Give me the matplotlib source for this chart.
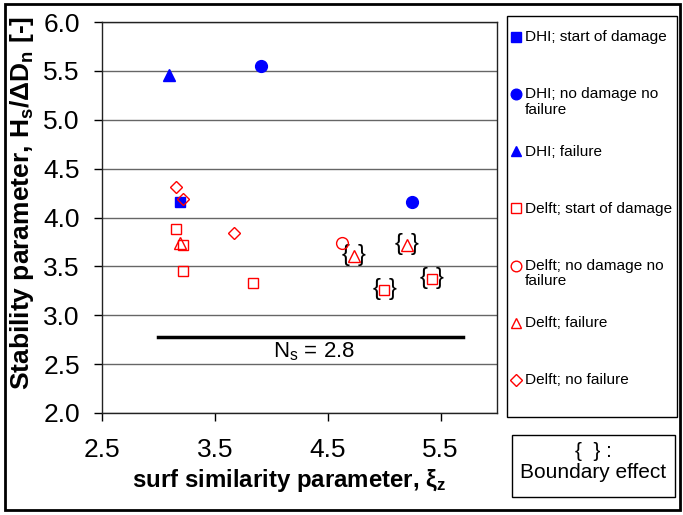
import matplotlib
matplotlib.use("Agg")
import matplotlib.pyplot as plt
from matplotlib.patches import Rectangle
from matplotlib.lines import Line2D

plt.rcParams['font.family'] = ['Liberation Sans', 'DejaVu Sans']
plt.rcParams['mathtext.fontset'] = 'custom'
plt.rcParams['mathtext.rm'] = 'Liberation Sans'
plt.rcParams['mathtext.it'] = 'Liberation Sans:italic'
plt.rcParams['mathtext.bf'] = 'Liberation Sans:bold'

# data
dhi_start_x = [3.19]
dhi_start_y = [4.16]
dhi_nodmg_x = [3.91, 5.25]
dhi_nodmg_y = [5.55, 4.16]
dhi_fail_x = [3.09]
dhi_fail_y = [5.46]

delft_start_x = [3.16, 3.22, 3.22, 3.84, 5.00, 5.42]
delft_start_y = [3.88, 3.72, 3.45, 3.33, 3.26, 3.37]
delft_nodmg_x = [4.63]
delft_nodmg_y = [3.74]
delft_fail_x = [3.19, 4.73, 5.20]
delft_fail_y = [3.74, 3.61, 3.72]
delft_nofail_x = [3.16, 3.22, 3.67]
delft_nofail_y = [4.31, 4.19, 3.84]

# points with boundary effect { }
boundary_x = [4.73, 5.00, 5.20, 5.42]
boundary_y = [3.61, 3.26, 3.72, 3.37]

ns_value = 2.78
ns_x = [3.0, 5.7]

W, H = 683, 515
fig = plt.figure(figsize=(6.83, 5.15), dpi=100)
ax = fig.add_axes([102/W, 1-413/H, 395/W, 391/H])

blue = '#0000FF'
red = '#FF0000'

series = [
    (dhi_start_x, dhi_start_y, 's', dict(color=blue, ms=7.5), 'DHI; start of damage'),
    (dhi_nodmg_x, dhi_nodmg_y, 'o', dict(color=blue, ms=8.5), 'DHI; no damage no\nfailure'),
    (dhi_fail_x, dhi_fail_y, '^', dict(color=blue, ms=8), 'DHI; failure'),
    (delft_start_x, delft_start_y, 's', dict(mfc='none', mec=red, mew=1, ms=7.5), 'Delft; start of damage'),
    (delft_nodmg_x, delft_nodmg_y, 'o', dict(mfc='none', mec=red, mew=1, ms=8.5), 'Delft; no damage no\nfailure'),
    (delft_fail_x, delft_fail_y, '^', dict(mfc='none', mec=red, mew=1, ms=8.5), 'Delft; failure'),
    (delft_nofail_x, delft_nofail_y, 'D', dict(mfc='none', mec=red, mew=1, ms=6.5), 'Delft; no failure'),
]

for xs, ys, mk, kw, lab in series:
    ax.plot(xs, ys, mk, ls='none', zorder=5, **kw)

for bx, by in zip(boundary_x, boundary_y):
    ax.annotate('{', (bx, by), xytext=(-8, 1), textcoords='offset pixels',
                ha='center', va='center', fontsize=17, fontweight='light')
    ax.annotate('}', (bx, by), xytext=(8, 1), textcoords='offset pixels',
                ha='center', va='center', fontsize=17, fontweight='light')

ax.plot(ns_x, [ns_value, ns_value], color='black', lw=2.5, zorder=3)
ax.text(4.38, 2.63, r'N$_\mathrm{s}$ = 2.8', ha='center', va='center', fontsize=16)

ax.set_xlim(2.5, 6.0)
ax.set_ylim(2.0, 6.0)
ax.set_xticks([2.5, 3.5, 4.5, 5.5])
ax.set_yticks([2.0, 2.5, 3.0, 3.5, 4.0, 4.5, 5.0, 5.5, 6.0])
ax.set_xticklabels(['2.5', '3.5', '4.5', '5.5'])
ax.set_yticklabels(['%.1f' % v for v in ax.get_yticks()])
ax.yaxis.grid(True, color='#666666', lw=1)
ax.set_axisbelow(True)
ax.tick_params(axis='both', direction='out', length=6, width=1, labelsize=19)
ax.tick_params(axis='y', pad=10)
ax.tick_params(axis='x', pad=12)
for s in ax.spines.values():
    s.set_color('#222222')
    s.set_linewidth(1)

fig.text(22/W, 1-203/H, r'Stability parameter, H$_\mathbf{s}$/ΔD$_\mathbf{n}$ [-]',
         rotation=90, ha='center', va='center', fontsize=19, fontweight='bold')
fig.text(289/W, 1-481/H, r'surf similarity parameter, ξ$_\mathbf{z}$',
         ha='center', va='center', fontsize=17.3, fontweight='bold')

# legend box, drawn by hand: each entry's first line sits on an even step
fig.patches.append(Rectangle((506.7/W, 1-416.7/H), 170/W, 401/H,
                             transform=fig.transFigure, fill=False, ec='black', lw=1))
for i, (xs, ys, mk, kw, lab) in enumerate(series):
    yc = 36.7 + 57.2 * i
    kw2 = dict(kw)
    kw2['ms'] = kw['ms'] * 0.9
    fig.lines.append(Line2D([515.7/W], [1-yc/H], marker=mk, ls='none',
                            transform=fig.transFigure, **kw2))
    fig.text(525/W, 1-(yc-6.5)/H, lab, ha='left', va='top', fontsize=11.1,
             linespacing=1.12)

# boundary effect box
fig.patches.append(Rectangle((511.7/W, 1-496.7/H), 163.3/W, 61.7/H,
                             transform=fig.transFigure, fill=False, ec='black', lw=1))
fig.text(593/W, 1-462/H, '{  } :\nBoundary effect', ha='center', va='center',
         fontsize=15, linespacing=1.15)

# outer frame
fig.patches.append(Rectangle((5/W, 1-510/H), 675/W, 506/H,
                             transform=fig.transFigure, fill=False, ec='black', lw=2))

fig.savefig('out.png', dpi=100)
